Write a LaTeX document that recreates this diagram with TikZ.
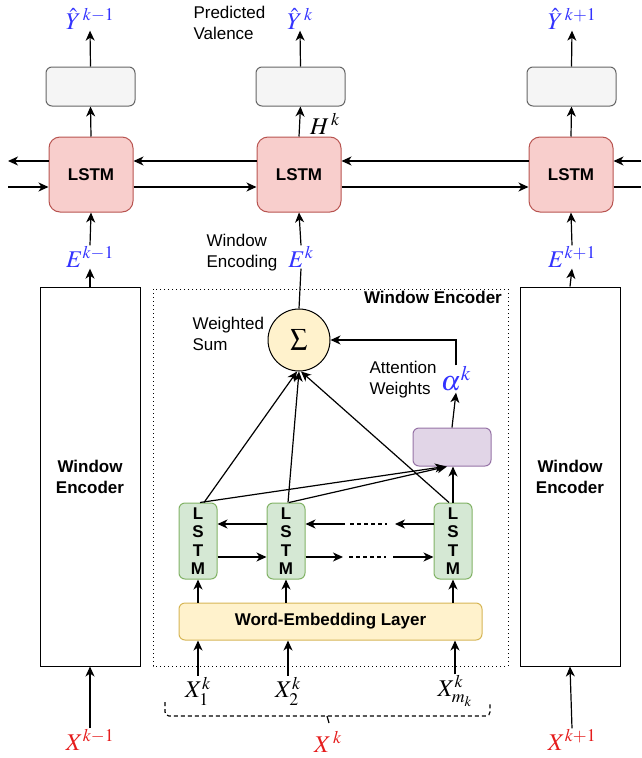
\documentclass[tikz,border=0pt]{standalone}
\usepackage{mathptmx}
\usepackage[no-math]{fontspec}
\setmainfont{Liberation Sans}
\usetikzlibrary{arrows.meta,positioning}

\definecolor{predfill}{HTML}{F5F5F5}
\definecolor{preddraw}{HTML}{666666}
\definecolor{lstmfill}{HTML}{F8CECC}
\definecolor{lstmdraw}{HTML}{B85450}
\definecolor{wordfill}{HTML}{D5E8D4}
\definecolor{worddraw}{HTML}{82B366}
\definecolor{embfill}{HTML}{FFF2CC}
\definecolor{embdraw}{HTML}{D6B656}
\definecolor{attfill}{HTML}{E1D5E7}
\definecolor{attdraw}{HTML}{9673A6}
\definecolor{mathblue}{HTML}{3333FF}
\definecolor{mathred}{HTML}{E51C1C}

\tikzset{
  pred/.style={draw=preddraw,fill=predfill,line width=1pt,rounded corners=6pt,minimum width=89pt,minimum height=39pt},
  biglstm/.style={draw=lstmdraw,fill=lstmfill,line width=1pt,rounded corners=11pt,minimum width=84pt,minimum height=75pt,font=\fontsize{17}{19}\selectfont\bfseries},
  wordlstm/.style={draw=worddraw,fill=wordfill,line width=1pt,rounded corners=6pt,minimum width=38pt,minimum height=76pt,align=center,font=\fontsize{17}{18.5}\selectfont\bfseries},
  encbox/.style={draw,line width=1pt,minimum width=100pt,minimum height=379pt,align=center,font=\fontsize{17}{21}\selectfont\bfseries},
  lbl/.style={align=left,font=\fontsize{17}{21}\selectfont},
  var/.style={inner sep=1pt,font=\fontsize{24}{26}\selectfont},
  arr/.style={-{Stealth[length=10pt,width=9pt,inset=3pt]},line width=1.2pt},
  ln/.style={line width=1.2pt}
}

\begin{document}
\begin{tikzpicture}[x=1pt,y=-1pt]
\useasboundingbox (0,0) rectangle (641,758);

% prediction layer
\node[var,text=mathblue] (yl) at (90,19) {$\hat{Y}^{\,k-1}$};
\node[var,text=mathblue] (ym) at (300,19) {$\hat{Y}^{\,k}$};
\node[var,text=mathblue] (yr) at (572,19) {$\hat{Y}^{\,k+1}$};
\node[lbl,anchor=west] (predtxt) at (190,23) {Predicted\\Valence};
\node[pred] (gl) at (90.5,86.5) {};
\node[pred] (gm) at (300.5,86.5) {};
\node[pred] (gr) at (571.5,86.5) {};

% window level lstm
\node[biglstm] (ll) at (91,174.5) {LSTM};
\node[biglstm] (lm) at (299,174.5) {LSTM};
\node[biglstm] (lr) at (571,174.5) {LSTM};
\node[var] (hk) at (325,124) {$H^{\,k}$};

% window encodings
\node[var,text=mathblue] (el) at (90,257) {$E^{k-1}$};
\node[var,text=mathblue] (em) at (301,257) {$E^{k}$};
\node[var,text=mathblue] (er) at (572,257) {$E^{k+1}$};
\node[lbl,anchor=west] (enctxt) at (203,253) {Window\\Encoding};

% neighbouring encoders
\node[encbox] (wl) at (90,476.5) {Window\\Encoder};
\node[encbox] (wr) at (570,476.5) {Window\\Encoder};

% detailed encoder
\draw[dash pattern=on 1pt off 3pt,line width=1pt] (153,289) rectangle (508,666);
\node[font=\fontsize{17}{19}\selectfont\bfseries,anchor=north east,inner sep=2pt] (enctitle) at (504,289) {Window Encoder};
\node[circle,draw,fill=embfill,minimum size=62pt,line width=1pt,font=\fontsize{24}{26}\selectfont] (sum) at (299,340) {$\sum$};
\node[lbl,anchor=west] (sumtxt) at (189,334) {Weighted\\Sum};
\node[draw=attdraw,fill=attfill,line width=1pt,rounded corners=6pt,minimum width=78pt,minimum height=38pt] (att) at (452,447) {};
\node[var,text=mathblue,font=\fontsize{28}{30}\selectfont] (alpha) at (456,379) {$\alpha^{k}$};
\node[lbl,anchor=west] (atttxt) at (366,380) {Attention\\Weights};

\node[wordlstm] (s1) at (198,541) {L\\S\\T\\M};
\node[wordlstm] (s2) at (286,541) {L\\S\\T\\M};
\node[wordlstm] (s3) at (453,541) {L\\S\\T\\M};
\node[draw=embdraw,fill=embfill,line width=1pt,rounded corners=6pt,minimum width=303pt,minimum height=37pt,font=\fontsize{17}{19}\selectfont\bfseries] (emb) at (330.5,621.5) {Word-Embedding Layer};

% inputs
\node[var] (x1) at (198,691) {$X^{k}_{1}$};
\node[var] (x2) at (288,691) {$X^{k}_{2}$};
\node[var] (x3) at (455,691) {$X^{k}_{m_k}$};
\node[var,text=mathred] (xk) at (328,742) {$X^{\,k}$};
\node[var,text=mathred] (xl) at (90,740) {$X^{k-1}$};
\node[var,text=mathred] (xr) at (572,740) {$X^{k+1}$};
\draw[dash pattern=on 4pt off 3pt,line width=1.2pt,rounded corners=4pt] (165,702) -- (165,716) -- (490,716) -- (490,702);
\draw[line width=1.2pt] (327,716) -- (329,723);

% connectors, top part
\foreach \g/\y/\l in {gl/yl/ll,gm/ym/lm,gr/yr/lr}{
  \draw[arr] (\g.north) -- (\y.south);
  \draw[arr] (\l.north) -- (\g.south);
}
\foreach \e/\l/\w in {el/ll/wl,er/lr/wr}{
  \draw[arr] (\e.north) -- (\l.south);
  \draw[arr] (\w.north) -- (\e.south);
}
\draw[arr] (em.north) -- (lm.south);
\draw[ln] (sum.north) -- (em.south);
\coordinate (outl) at (8,161);
\coordinate (inl) at (8,187);
\coordinate (inr) at (641,161);
\coordinate (outr) at (641,187);
\draw[arr] ([yshift=13.5pt]ll.west) -- (outl);
\draw[arr] (inl) -- ([yshift=-12.5pt]ll.west);
\draw[arr] ([yshift=13.5pt]lm.west) -- ([yshift=13.5pt]ll.east);
\draw[arr] ([yshift=-12.5pt]ll.east) -- ([yshift=-12.5pt]lm.west);
\draw[arr] ([yshift=13.5pt]lr.west) -- ([yshift=13.5pt]lm.east);
\draw[arr] ([yshift=-12.5pt]lm.east) -- ([yshift=-12.5pt]lr.west);
\draw[arr] (inr) -- ([yshift=13.5pt]lr.east);
\draw[ln] ([yshift=-12.5pt]lr.east) -- (outr);
\draw[arr] (xl.north) -- (wl.south);
\draw[arr] (xr.north) -- (wr.south);

% connectors, encoder
\draw[arr] (att.north) -- (alpha.south);
\draw[arr] (alpha.north) |- (sum.east);
\draw[arr] ([xshift=6pt]s1.north) -- ([xshift=-2pt]sum.south);
\draw[arr] ([xshift=2pt]s2.north) -- (sum.south);
\draw[arr] ([xshift=-4pt]s3.north) -- ([xshift=2pt]sum.south);
\draw[arr] ([xshift=2pt]s1.north) -- ([xshift=-7pt]att.south);
\draw[arr] ([xshift=3pt]s2.north) -- ([xshift=-5pt]att.south);
\draw[arr] (s3.north) -- (s3.north |- att.south);

\coordinate (b1) at (345,524);
\coordinate (b2) at (395,524);
\coordinate (f1) at (343,557);
\coordinate (f2) at (393,557);
\draw[arr] ([yshift=17pt]s2.west) -- ([yshift=17pt]s1.east);
\draw[arr] ([yshift=-16pt]s1.east) -- ([yshift=-16pt]s2.west);
\draw[arr] (b1) -- ([yshift=17pt]s2.east);
\draw[dash pattern=on 4pt off 3pt,ln] (350,524) -- (387,524);
\draw[arr] ([yshift=17pt]s3.west) -- (b2);
\draw[arr] ([yshift=-16pt]s2.east) -- (f1);
\draw[dash pattern=on 4pt off 3pt,ln] (349,557) -- (386,557);
\draw[arr] (f2) -- ([yshift=-16pt]s3.west);

\foreach \s/\x in {s1/x1,s2/x2,s3/x3}{
  \draw[arr] (\s.south |- emb.north) -- (\s.south);
  \draw[arr] (\x.north) -- (\x.north |- emb.south);
}
\end{tikzpicture}
\end{document}
